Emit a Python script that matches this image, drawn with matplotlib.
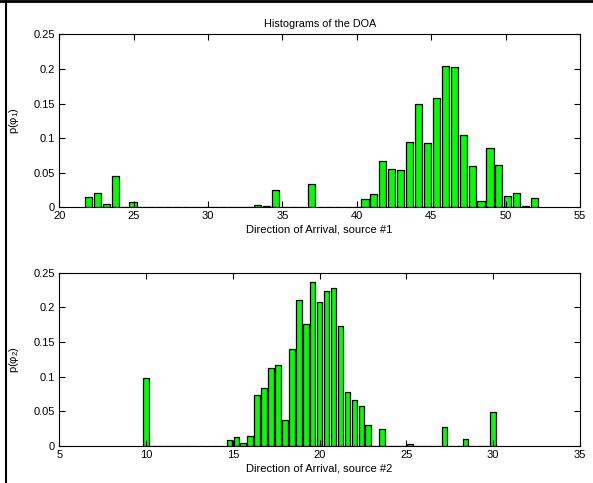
import matplotlib
matplotlib.use("Agg")
import matplotlib.pyplot as plt
from matplotlib.lines import Line2D

plt.rcParams["font.family"] = ["Liberation Sans", "DejaVu Sans"]
plt.rcParams["font.size"] = 8
plt.rcParams["mathtext.fontset"] = "custom"
plt.rcParams["mathtext.rm"] = "Liberation Sans"

# source #1 histogram (bin centres, relative frequency)
doa1_centers = [21.95, 22.55, 23.15, 23.75, 24.35, 24.95, 25.55, 26.15, 26.75, 27.35,
                27.95, 28.55, 29.15, 29.75, 30.35, 30.95, 31.55, 32.15, 32.75, 33.35,
                33.95, 34.55, 35.15, 35.75, 36.35, 36.95, 37.55, 38.15, 38.75, 39.35,
                39.95, 40.55, 41.15, 41.75, 42.35, 42.95, 43.55, 44.15, 44.75, 45.35,
                45.95, 46.55, 47.15, 47.75, 48.35, 48.95, 49.55, 50.15, 50.75, 51.35,
                51.95]
doa1_freq = [0.0145, 0.0202, 0.0048, 0.0448, 0.0, 0.0072, 0.0, 0.0, 0.0, 0.0,
             0.0, 0.0, 0.0, 0.0, 0.0, 0.0, 0.0, 0.0, 0.0, 0.0034,
             0.0014, 0.0246, 0.0, 0.0, 0.0, 0.0337, 0.0, 0.0, 0.0, 0.0,
             0.0, 0.012, 0.0198, 0.067, 0.0554, 0.054, 0.0944, 0.1488, 0.0925, 0.1585,
             0.2047, 0.2028, 0.1045, 0.0592, 0.0087, 0.0857, 0.0617, 0.0159, 0.0202, 0.002,
             0.013]

# source #2 histogram
doa2_centers = [10.0, 10.4, 10.8, 11.2, 11.6, 12.0, 12.4, 12.8, 13.2, 13.6,
                14.0, 14.4, 14.8, 15.2, 15.6, 16.0, 16.4, 16.8, 17.2, 17.6,
                18.0, 18.4, 18.8, 19.2, 19.6, 20.0, 20.4, 20.8, 21.2, 21.6,
                22.0, 22.4, 22.8, 23.2, 23.6, 24.0, 24.4, 24.8, 25.2, 25.6,
                26.0, 26.4, 26.8, 27.2, 27.6, 28.0, 28.4, 28.8, 29.2, 29.6,
                30.0]
doa2_freq = [0.0983, 0.0, 0.0, 0.0, 0.0, 0.0, 0.0, 0.0, 0.0, 0.0,
             0.0, 0.0, 0.0082, 0.0125, 0.0039, 0.0135, 0.0727, 0.0829, 0.1127, 0.117,
             0.0366, 0.1402, 0.2105, 0.1758, 0.237, 0.2076, 0.2235, 0.2283, 0.1724, 0.078,
             0.066, 0.0578, 0.0294, 0.0, 0.0236, 0.0, 0.0, 0.0, 0.002, 0.0,
             0.0, 0.0, 0.0, 0.0265, 0.0, 0.0, 0.0096, 0.0, 0.0, 0.0,
             0.0491]

yticks = [0, 0.05, 0.1, 0.15, 0.2, 0.25]
ytick_labels = ["0", "0.05", "0.1", "0.15", "0.2", "0.25"]

fig = plt.figure(figsize=(5.93, 4.83), dpi=100)
ax1 = fig.add_axes([0.1, 0.5708, 0.878, 0.358])
ax2 = fig.add_axes([0.1, 0.0772, 0.878, 0.358])


def style(ax):
    ax.tick_params(direction="in", top=True, right=True, length=4, width=0.8,
                   labelsize=8, pad=3)
    for s in ax.spines.values():
        s.set_linewidth(0.8)


ax1.bar(doa1_centers, doa1_freq, width=0.48, color="#00ff00", edgecolor="black", linewidth=0.9)
ax1.set_xlim(20, 55)
ax1.set_ylim(0, 0.25)
ax1.set_xticks([20, 25, 30, 35, 40, 45, 50, 55])
ax1.set_yticks(yticks)
ax1.set_yticklabels(ytick_labels)
ax1.set_xlabel("Direction of Arrival, source #1", labelpad=2.5)
ax1.set_ylabel("p(φ$_{1}$)", labelpad=9)
ax1.set_title("Histograms of the DOA", fontsize=7.8, pad=5)
style(ax1)

ax2.bar(doa2_centers, doa2_freq, width=0.32, color="#00ff00", edgecolor="black", linewidth=0.9)
ax2.set_xlim(5, 35)
ax2.set_ylim(0, 0.25)
ax2.set_xticks([5, 10, 15, 20, 25, 30, 35])
ax2.set_yticks(yticks)
ax2.set_yticklabels(ytick_labels)
ax2.set_xlabel("Direction of Arrival, source #2", labelpad=2.5)
ax2.set_ylabel("p(φ$_{2}$)", labelpad=9)
style(ax2)

# frame lines along top and left edge
fig.add_artist(Line2D([0, 1], [0.9972, 0.9972], transform=fig.transFigure, color="black", linewidth=2))
fig.add_artist(Line2D([0.0101, 0.0101], [0, 1], transform=fig.transFigure, color="black", linewidth=1.5))

fig.savefig("out.png", dpi=100, facecolor="white")
